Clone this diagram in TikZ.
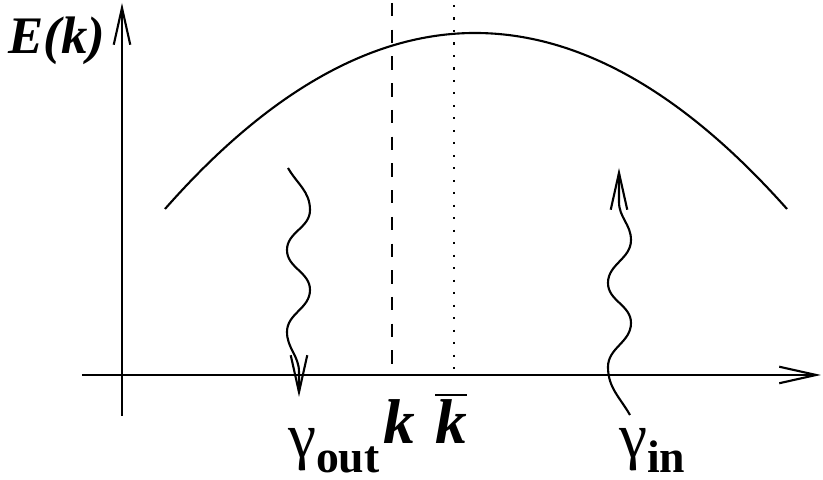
\documentclass[tikz,border=0pt]{standalone}
\usepackage{fontspec}
\setmainfont{Liberation Serif}
\usepackage{tikz}
\usetikzlibrary{arrows.meta, positioning, calc}

\begin{document}
\begin{tikzpicture}[
    x=0.01cm, y=0.01cm,
    line width=0.6pt,
    barb/.style={-{Straight Barb[length=10.5pt, width=4.7pt, line width=0.6pt]}},
    wave/.style={barb, line join=round},
    bigsym/.style={font=\fontsize{18}{18}\selectfont, inner sep=0pt},
    bolditk/.style={font=\fontsize{18}{18}\selectfont\bfseries\itshape, inner sep=0pt},
    ]
    \useasboundingbox (0,0) rectangle (823,480);

    % Axes
    \draw[barb] (122,64) -- (122,477);
    \draw[barb] (82,105) -- (821,105);

    % Energy band
    \draw (165,271) .. controls (268,388) and (372,447) .. (475,447)
          .. controls (579,447) and (683,388) .. (787,271);
    \node[font=\fontsize{15}{15}\selectfont\bfseries\itshape, inner sep=0pt, anchor=base] (Ek) at (57,426) {E(k)};

    % k and k-bar markers
    \draw[dash pattern=on 3.8pt off 3.8pt] (392,477) -- (392,105);
    \draw[dash pattern=on 0.6pt off 2.95pt] (454,475) -- (454,105);
    \node[bolditk, anchor=base] (kk) at (399,36) {k};
    \node[bolditk, anchor=base] (kbar) at (451,36) {$\overline{\mbox{\bfseries\itshape k}}$};

    % Emitted photon
    \draw[wave] (288,312) to[out=-60,in=90] (310,270) to[out=-90,in=90] (287,230)
          to[out=-90,in=90] (310,190) to[out=-90,in=90] (287,148) to[out=-90,in=90] (299,108) -- (299,83);
    \node[bigsym, anchor=base west] (gout) at (287,22) {γ\raisebox{-4pt}{\fontsize{13}{13}\selectfont\bfseries out}};

    % Absorbed photon
    \draw[wave] (630,65) to[out=120,in=-90] (608,113) to[out=90,in=-90] (631,157)
          to[out=90,in=-90] (608,197) to[out=90,in=-90] (631,240) to[out=90,in=-90] (619,278) -- (619,312);
    \node[bigsym, anchor=base west] (gin) at (618,22) {γ\raisebox{-4pt}{\fontsize{13}{13}\selectfont\bfseries in}};

\end{tikzpicture}
\end{document}
